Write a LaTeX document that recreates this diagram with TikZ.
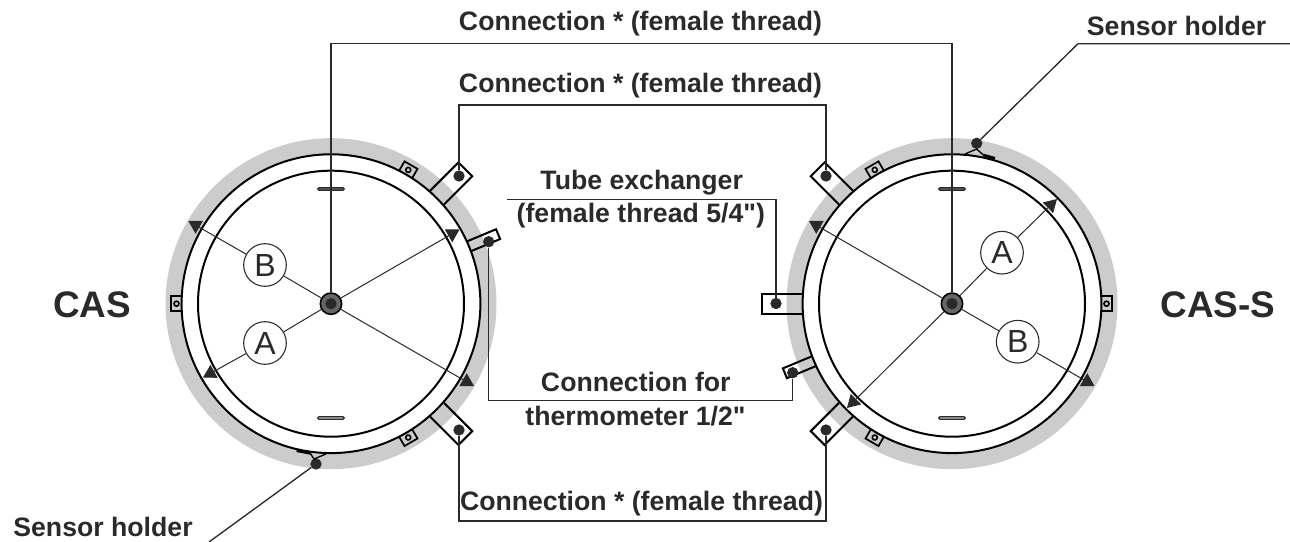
\documentclass[tikz,border=0pt]{standalone}
\usepackage{fontspec}
\setmainfont{Liberation Sans}
\newfontfamily\rawquote{Liberation Sans}
\usetikzlibrary{arrows.meta}
\definecolor{inkdark}{HTML}{2B2A29}
\definecolor{ringgray}{HTML}{CCCCCC}
\begin{document}
\begin{tikzpicture}[%
            x=0.75pt, y=-0.75pt,
            mypoint/.style={shape=circle, inner sep=0pt, minimum size=8.5pt, fill=inkdark},
            hubnode/.style={shape=circle, inner sep=0pt, minimum size=16pt, draw=black, line width=1.2pt, fill=black!60},
            hubcore/.style={shape=circle, inner sep=0pt, minimum size=8.5pt, fill=inkdark},
            letter/.style={shape=circle, inner sep=0pt, minimum size=32pt, draw=inkdark, line width=0.8pt, fill=white, text=inkdark, font=\fontsize{24}{24}\selectfont},
            callout/.style={anchor=base, inner sep=0pt, text=inkdark, font=\bfseries\fontsize{20}{24}\selectfont},
            bignote/.style={anchor=base, inner sep=0pt, text=inkdark, font=\bfseries\fontsize{27.7}{30}\selectfont},
            barnode/.style={shape=rectangle, rounded corners=1pt, inner sep=0pt, minimum width=20pt, minimum height=2pt, draw=inkdark, line width=0.9pt, fill=black!25},
            leader/.style={draw=inkdark, line width=1pt},
            sightline/.style={draw=inkdark, line width=0.75pt},
            sightarrow/.style={sightline, -{Triangle[length=9.5pt,width=11pt]}},
            outline/.style={draw=black, line width=1.5pt}
    ]
    \useasboundingbox (0,0) rectangle (1290,542);
    \coordinate (lc) at (331,303.7);
    \coordinate (rc) at (952,303.7);

    \foreach \c in {lc,rc} {
        \fill [ringgray] (\c) circle [radius=165.5];
        \fill [white] (\c) circle [radius=149.4];
        \draw [outline] (\c) circle [radius=149.4];
        \draw [outline] (\c) circle [radius=133];
    }

    \foreach \c/\ang in {lc/45,lc/-45,rc/135,rc/225,rc/180}
        \draw [outline,shift={(\c)},rotate=\ang,line join=miter]
            (150,-9.8) -- (190,-9.8) -- (190,9.8) -- (150,9.8);
    \foreach \c/\ang in {lc/22.6,rc/202.6}
        \draw [outline,shift={(\c)},rotate=\ang]
            (150,-5.3) -- (181,-5.3) -- (181,5.3) -- (150,5.3);
    \foreach \c/\ang in {lc/60,lc/180,lc/-60,rc/120,rc/0,rc/240} {
        \draw [outline,line width=1.3pt,shift={(\c)},rotate=\ang]
            (149.5,-7.5) -- (160,-7.5) -- (160,7.5) -- (149.5,7.5);
        \draw [outline,line width=1.2pt,shift={(\c)},rotate=\ang]
            (154.5,0) circle [radius=2.5];
    }

    \node [barnode,fill=black!60] (barLT) at (331,189) {};
    \node [barnode] (barLB) at (331,418) {};
    \node [barnode,fill=black!60] (barRT) at (952,189) {};
    \node [barnode] (barRB) at (952,418) {};

    \node [hubnode] (hubL) at (lc) {};
    \node [hubnode] (hubR) at (rc) {};
    \node [hubcore] at (lc) {};
    \node [hubcore] at (rc) {};

    \node [mypoint] (dotLT) at (459,176) {};
    \node [mypoint] (dotLB) at (459,430) {};
    \node [mypoint] (dotRT) at (826,176) {};
    \node [mypoint] (dotRB) at (826,430) {};
    \node [mypoint] (dotTube) at (776,303.5) {};
    \node [mypoint] (dotThermL) at (488.7,241.7) {};
    \node [mypoint] (dotThermR) at (792.7,372.7) {};
    \node [mypoint] (dotSensL) at (316,464) {};
    \node [mypoint] (dotSensR) at (976.7,143.3) {};

    \coordinate (topOuter) at (640,43.7);
    \coordinate (topInner) at (640,105);
    \coordinate (botInner) at (640,521);
    \coordinate (thermMid) at (640,400.7);
    \coordinate (tubeStart) at (507,199.5);
    \coordinate (sensLEnd) at (209,542);
    \coordinate (sensRKnee) at (1078,43.7);
    \coordinate (sensREnd) at (1290,43.7);

    \draw [leader] (hubL) |- (topOuter) -| (hubR);
    \draw [leader] (dotLT) |- (topInner) -| (dotRT);
    \draw [leader] (dotLB) |- (botInner) -| (dotRB);
    \draw [leader] (dotThermL) |- (thermMid) -| (dotThermR);
    \draw [leader] (tubeStart) -| (dotTube);
    \draw [leader] (dotSensL) -- (sensLEnd);
    \draw [leader] (dotSensR) -- (sensRKnee) -- (sensREnd);

    \draw [black,line width=1pt] (310,453) -- (314,459) -- (326,454);
    \draw [black,line width=2pt] (296.7,450.7) -- (310,453.3);
    \draw [black,line width=1pt] (965,154) -- (976.7,149) -- (983.3,155);
    \draw [black,line width=2pt] (983.3,155) -- (995,158.3);

    \node [letter] (letterLB) at (265,265) {B};
    \node [letter] (letterLA) at (265,343) {A};
    \node [letter] (letterRA) at (1002,252.7) {A};
    \node [letter] (letterRB) at (1017.7,341.7) {B};

    \coordinate (tipLUL) at (188.3,221);
    \coordinate (tipLLL) at (203,377.5);
    \coordinate (tipLUR) at (459.5,229.5);
    \coordinate (tipLLR) at (474,386);
    \coordinate (tipRUL) at (809,221);
    \coordinate (tipRUR) at (1057,199);
    \coordinate (tipRLL) at (847,408);
    \coordinate (tipRLR) at (1094.5,386);

    \draw [sightline] (hubL) -- (letterLB);
    \draw [sightline] (hubL) -- (letterLA);
    \draw [sightline] (hubR) -- (letterRA);
    \draw [sightline] (hubR) -- (letterRB);
    \draw [sightarrow] (letterLB) -- (tipLUL);
    \draw [sightarrow] (letterLA) -- (tipLLL);
    \draw [sightarrow] (letterRA) -- (tipRUR);
    \draw [sightarrow] (letterRB) -- (tipRLR);
    \draw [sightarrow] (hubL) -- (tipLUR);
    \draw [sightarrow] (hubL) -- (tipLLR);
    \draw [sightarrow] (hubR) -- (tipRUL);
    \draw [sightarrow] (hubR) -- (tipRLL);

    \node [callout] (noteTop) at (640.5,31) {Connection * (female thread)};
    \node [callout] (noteInner) at (640.5,92.7) {Connection * (female thread)};
    \node [callout] (noteBottom) at (641.5,510) {Connection * (female thread)};
    \node [callout] (noteTube) at (641.7,190) {Tube exchanger};
    \node [callout] (noteThread) at (640.8,222.7) {(female thread 5/4{\rawquote"})};
    \node [callout] (noteTherm) at (635.8,391.7) {Connection for};
    \node [callout] (noteHalf) at (635.5,425) {thermometer 1/2{\rawquote"}};
    \node [callout] (noteSensL) at (103,536) {Sensor holder};
    \node [callout] (noteSensR) at (1176.6,35.3) {Sensor holder};
    \node [bignote] (nameL) at (92,317) {CAS};
    \node [bignote] (nameR) at (1218,317) {CAS-S};
\end{tikzpicture}
\end{document}
